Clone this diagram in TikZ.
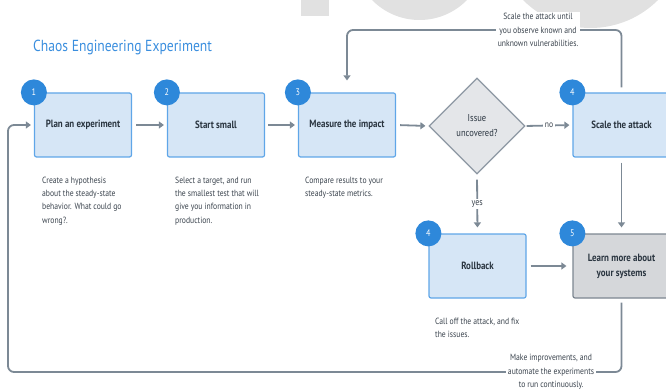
\documentclass[tikz,border=0pt]{standalone}
\usepackage{fontspec}
\setmainfont[FakeStretch=0.85]{PT Sans}
\usetikzlibrary{arrows.meta,shapes.geometric}
\definecolor{boxfill}{HTML}{D6E6F6}
\definecolor{boxline}{HTML}{5FA6E8}
\definecolor{numblue}{HTML}{2E88DA}
\definecolor{arrowgray}{HTML}{7C8995}
\definecolor{textdark}{HTML}{2A3540}
\definecolor{descgray}{HTML}{3A434D}
\definecolor{diafill}{HTML}{E4E6E9}
\definecolor{dialine}{HTML}{8D98A3}
\definecolor{learnfill}{HTML}{D5D7DA}
\definecolor{learnline}{HTML}{7D8791}
\definecolor{wm}{HTML}{E1E1E1}
\definecolor{titleblue}{HTML}{3A8EDE}
\begin{document}
\begin{tikzpicture}[x=1pt,y=-1pt,
  stepbox/.style={draw=boxline, fill=boxfill, line width=1.2pt, rounded corners=2pt,
    minimum width=97pt, minimum height=64pt, inner sep=0pt,
    font=\bfseries\fontsize{10.5}{15}\selectfont, text=textdark, align=center},
  learnbox/.style={stepbox, draw=learnline, fill=learnfill},
  numdot/.style={circle, fill=numblue, minimum size=26pt, inner sep=0pt,
    text=white, font=\fontsize{9.5}{10}\selectfont},
  flow/.style={draw=arrowgray, line width=1.8pt, -{Triangle[length=5pt,width=7pt]}},
  desc/.style={anchor=north west, align=left, text=descgray, inner sep=0pt,
    font=\fontsize{9}{13.3}\selectfont},
  note/.style={fill=white, align=center, text=descgray, inner sep=1.5pt,
    font=\fontsize{9}{13.5}\selectfont}
]
\useasboundingbox (0,0) rectangle (666,390);
\begin{scope}
\clip (0,0) rectangle (666,390);
% background watermark shapes
\fill[wm] (301,0) rectangle (329,16);
\fill[wm] (419.5,-46.4) circle (66.4);
\fill[wm] (590.5,-67.4) circle (95.4);

% title
\node[anchor=base west, inner sep=0pt, text=titleblue, font=\fontsize{16}{18}\selectfont] (title) at (33,52) {Chaos Engineering Experiment};

% main boxes
\node[stepbox] (b1) at (83,125) {Plan an experiment};
\node[stepbox] (b2) at (216,125) {Start small};
\node[stepbox] (b3) at (347,125) {Measure the impact};
\node[diamond, draw=dialine, fill=diafill, line width=1.2pt, minimum width=96pt, minimum height=96pt, inner sep=0pt, align=center, text=textdark, font=\fontsize{10}{15}\selectfont] (d) at (477,126) {Issue\\uncovered?};
\node[stepbox] (sc) at (621.5,125) {Scale the attack};
\node[stepbox] (rb) at (477.5,266) {Rollback};
\node[learnbox] (le) at (621.5,266) {Learn more about\\your systems};

% number circles
\node[numdot] (n1) at (b1.north west) {1};
\node[numdot] (n2) at (b2.north west) {2};
\node[numdot] (n3) at (b3.north west) {3};
\node[numdot] (n4a) at (sc.north west) {4};
\node[numdot] (n4b) at (rb.north west) {4};
\node[numdot] (n5) at (le.north west) {5};

% descriptions
\node[desc] (t1) at (42,176.5) {Create a hypothesis\\about the steady-state\\behavior. What could go\\wrong?.};
\node[desc] (t2) at (175,176.5) {Select a target, and run\\the smallest test that will\\give you information in\\production.};
\node[desc] (t3) at (305,176.5) {Compare results to your\\steady-state metrics.};
\node[desc] (t4) at (435,317.5) {Call off the attack, and fix\\the issues.};

% straight connectors
\draw[flow, shorten <=4pt, shorten >=3pt] (b1.east) -- (b2.west);
\draw[flow, shorten <=3pt, shorten >=3pt] (b2.east) -- (b3.west);
\draw[flow, shorten <=4pt, shorten >=3pt] (b3.east) -- (d.west);
\draw[flow, shorten <=1pt, shorten >=3pt] (d.east) -- node[fill=white, inner sep=1.5pt, text=descgray, font=\fontsize{9}{10}\selectfont] (no) {no} (sc.west);
\draw[flow, shorten <=5pt, shorten >=6pt] (d.south) -- node[fill=white, inner sep=2pt, text=descgray, font=\fontsize{9.5}{10}\selectfont] (yes) {yes} (rb.north);
\draw[flow, shorten <=5pt, shorten >=6pt] (sc.south) -- (le.north);
\draw[flow, shorten <=4pt, shorten >=6pt] (rb.east) -- (le.west);

% top loop
\coordinate (tl) at (347,30);
\draw[flow, rounded corners=6pt, shorten <=5pt, shorten >=12pt] (sc.north) |- (tl) -- (b3.north);
\node[note] (topnote) at (538,30) {Scale the attack until\\you observe known and\\unknown vulnerabilities.};

% bottom loop
\coordinate (bl) at (8,372);
\draw[flow, rounded corners=6pt, shorten <=4pt, shorten >=3pt] (le.south) |- (bl) |- (b1.west);
\node[note] (botnote) at (551,372) {Make improvements, and\\automate the experiments\\to run continuously.};
\end{scope}
\end{tikzpicture}
\end{document}
